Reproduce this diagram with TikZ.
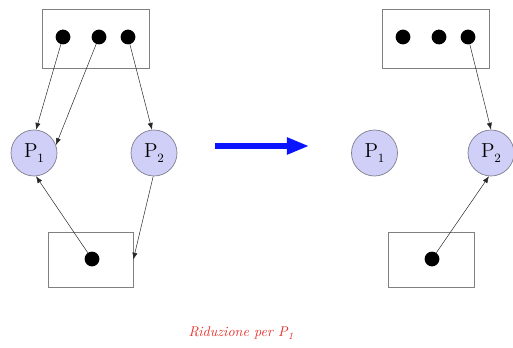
\documentclass[tikz,border=0pt]{standalone}
\usepackage{xcolor}
\usepackage{tikz}
\usetikzlibrary{positioning, arrows.meta}
\definecolor{procFill}{HTML}{CFCFF7}
\definecolor{procLine}{HTML}{7F7F8F}
\definecolor{boxLine}{HTML}{808080}
\definecolor{blueArrow}{HTML}{0A14FF}
\definecolor{capRed}{HTML}{E8302A}
\newcommand{\proc}[1]{P\raisebox{-0.6ex}{\small #1}}

\begin{document}
\begin{tikzpicture}[x=0.025cm, y=-0.025cm,
  res/.style={draw=boxLine, line width=0.5pt, inner sep=0pt},
  inst/.style={circle, fill=black, inner sep=0pt, minimum size=0.37cm},
  proc/.style={circle, fill=procFill, draw=procLine, line width=0.5pt, inner sep=0pt, minimum size=1.15cm, font=\Large},
  edge/.style={draw=black!85, line width=0.35pt, -{Latex[length=1.7mm, width=1.3mm]}}]
\useasboundingbox (0,0) rectangle (513,348);
% graph before the reduction
\node[res, minimum width=2.675cm, minimum height=1.475cm] (topL) at (95.5,38.5) {};
\node[res, minimum width=2.125cm, minimum height=1.375cm] (botL) at (90.5,259.5) {};
\node[inst] (tL1) at (63,37) {}; \node[inst] (tL2) at (99,37) {}; \node[inst] (tL3) at (128,37) {};
\node[inst] (bL) at (92,259) {};
\node[proc] (pL1) at (34,153) {\proc{1}};
\node[proc] (pL2) at (154,153) {\proc{2}};
\draw[edge] (tL1) -- (pL1.85);
\draw[edge] (tL2) -- (pL1.20);
\draw[edge] (tL3) -- (pL2.95);
\draw[edge] (bL) -- (pL1.-85);
\draw[edge] (pL2.-92) -- (botL.east);
% reduction arrow
\coordinate (from) at (215,146); \coordinate (to) at (309,146);
\draw[blueArrow, line width=3.6pt, -{Triangle[length=5.5mm, width=4mm]}] (from) -- (to);
% graph after the reduction
\node[res, minimum width=2.675cm, minimum height=1.475cm] (topR) at (435.5,38.5) {};
\node[res, minimum width=2.15cm, minimum height=1.375cm] (botR) at (431,259.5) {};
\node[inst] (tR1) at (403,37) {}; \node[inst] (tR2) at (439,37) {}; \node[inst] (tR3) at (468,37) {};
\node[inst] (bR) at (432,259) {};
\node[proc] (pR1) at (374.5,153) {\proc{1}};
\node[proc] (pR2) at (491,153) {\proc{2}};
\draw[edge] (tR3) -- (pR2.90);
\draw[edge] (bR) -- (pR2.-95);
\node[font=\itshape, text=capRed] (cap) at (241,333) {Riduzione per P\raisebox{-0.5ex}{\scriptsize 1}};
\end{tikzpicture}
\end{document}
